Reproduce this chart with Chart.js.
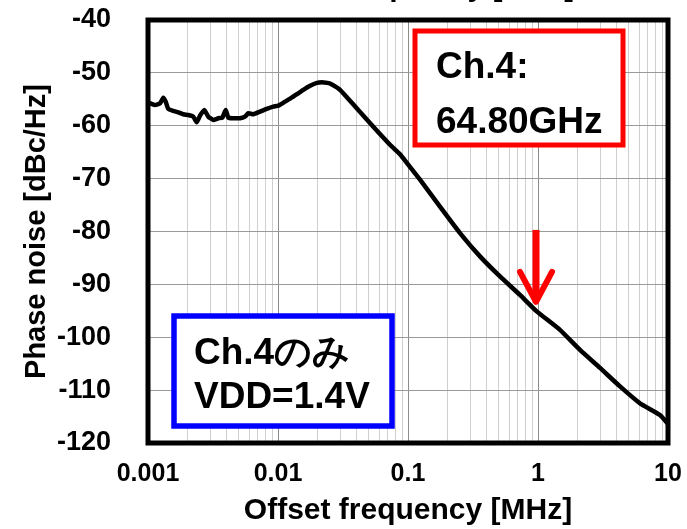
<!DOCTYPE html>
<html>
<head>
<meta charset="utf-8">
<script src="https://cdn.jsdelivr.net/npm/chart.js@4/dist/chart.umd.min.js"></script>
<style>
  html, body { margin: 0; padding: 0; background: #fff; }
  #wrap { width: 687px; height: 529px; position: relative; }
</style>
</head>
<body>
<div id="wrap"><canvas id="pnChart"></canvas></div>
<script>
// offset frequency [MHz] and phase noise [dBc/Hz]
const offsetFreq = [
  0.001, 0.001036, 0.001132, 0.001237, 0.001311, 0.001368, 0.001433, 0.001565,
  0.001711, 0.001868, 0.002042, 0.002231, 0.002369, 0.002512, 0.002711, 0.002909,
  0.003179, 0.003473, 0.003727, 0.003962, 0.00415, 0.004531, 0.005101, 0.005572,
  0.005909, 0.006457, 0.00727, 0.008185, 0.009204, 0.01005, 0.01132, 0.01275,
  0.01433, 0.01566, 0.0175, 0.0199, 0.0225, 0.0251, 0.03, 0.0403,
  0.0541, 0.0727, 0.0868, 0.1, 0.1237, 0.1762, 0.2512, 0.3579,
  0.5101, 0.727, 0.9772, 1.476, 2.104, 3.0, 4.273, 6.091, 8.675, 10
];
const phaseNoise = [
  -55.7, -55.75, -56.07, -55.75, -54.69, -55.44, -56.82, -57.2,
  -57.45, -57.83, -57.96, -58.28, -59.34, -58.09, -57.01, -58.28,
  -58.9, -58.58, -58.47, -57.01, -58.47, -58.58, -58.58, -58.28,
  -57.64, -57.83, -57.33, -56.82, -56.39, -56.2, -55.44, -54.69,
  -53.86, -53.23, -52.5, -51.9, -51.8, -52.0, -53.2, -56.7,
  -60.2, -63.6, -65.4, -67.3, -70.2, -75.3, -80.3, -84.7,
  -88.5, -92.0, -95.1, -98.6, -102.4, -105.8, -109.3, -112.5, -114.7, -116.4
];

const decadeTicks = [0.001, 0.01, 0.1, 1, 10];
const decadeLabels = ["0.001", "0.01", "0.1", "1", "10"];
const minorSteps = [1, 2, 3, 4, 5, 6, 7, 8, 9];

const redNote = ["Ch.4:", "64.80GHz"];
const blueNote = ["Ch.4のみ", "VDD=1.4V"];
const arrowAt = { x: 1, yTop: -79.7, yTip: -93.3 };

const xTitle = "Offset frequency [MHz]";
const yTitle = "Phase noise [dBc/Hz]";
const font = "'Liberation Sans', Arial, sans-serif";

function isDecade(v) {
  return decadeTicks.some(d => Math.abs(v - d) / d < 1e-6);
}

const extras = {
  id: "extras",
  afterDraw(chart) {
    const ctx = chart.ctx;
    const a = chart.chartArea;
    const xs = chart.scales.x, ys = chart.scales.y;
    ctx.save();

    // plot frame
    ctx.strokeStyle = "#000";
    ctx.lineWidth = 5;
    ctx.strokeRect(a.left, a.top, a.right - a.left, a.bottom - a.top);

    // red note box
    ctx.fillStyle = "#fff";
    ctx.fillRect(a.left + 267, a.top + 11, 208, 114);
    ctx.strokeStyle = "#ff0000";
    ctx.lineWidth = 5;
    ctx.strokeRect(a.left + 267, a.top + 11, 208, 114);
    ctx.fillStyle = "#000";
    ctx.font = "bold 37px " + font;
    ctx.textAlign = "left";
    ctx.textBaseline = "alphabetic";
    ctx.fillText(redNote[0], a.left + 288, a.top + 58);
    ctx.fillText(redNote[1], a.left + 288, a.top + 113);

    // blue note box
    ctx.fillStyle = "#fff";
    ctx.fillRect(a.left + 26, a.top + 296, 218, 110);
    ctx.strokeStyle = "#0000ff";
    ctx.lineWidth = 5.5;
    ctx.strokeRect(a.left + 26, a.top + 296, 218, 110);
    ctx.fillStyle = "#000";
    ctx.font = "bold 37px " + font;
    ctx.fillText(blueNote[0], a.left + 46, a.top + 344);
    ctx.fillText(blueNote[1], a.left + 46, a.top + 388);

    // red arrow at 1 MHz
    const ax = xs.getPixelForValue(arrowAt.x) - 2;
    const y0 = ys.getPixelForValue(arrowAt.yTop);
    const y1 = ys.getPixelForValue(arrowAt.yTip);
    ctx.strokeStyle = "#ff0000";
    ctx.lineWidth = 7;
    ctx.lineCap = "butt";
    ctx.beginPath();
    ctx.moveTo(ax, y0);
    ctx.lineTo(ax, y1 - 4);
    ctx.stroke();
    ctx.lineWidth = 6;
    ctx.lineCap = "round";
    ctx.lineJoin = "round";
    ctx.beginPath();
    ctx.moveTo(ax - 16, y1 - 30);
    ctx.lineTo(ax, y1);
    ctx.lineTo(ax + 16, y1 - 30);
    ctx.stroke();

    // clipped copy of the axis title at the very top
    ctx.fillStyle = "#000";
    ctx.font = "bold 30px " + font;
    ctx.textAlign = "center";
    ctx.fillText(xTitle, (a.left + a.right) / 2 + 2, -4);
    ctx.restore();
  }
};

new Chart(document.getElementById("pnChart"), {
  type: "line",
  data: {
    datasets: [{
      data: offsetFreq.map((f, i) => ({ x: f, y: phaseNoise[i] })),
      borderColor: "#000",
      borderWidth: 4.5,
      pointRadius: 0,
      tension: 0.15,
      fill: false
    }]
  },
  options: {
    responsive: true,
    maintainAspectRatio: false,
    animation: false,
    layout: { padding: { top: 20, right: 19, left: 0, bottom: 0 } },
    plugins: { legend: { display: false }, tooltip: { enabled: false } },
    scales: {
      x: {
        type: "logarithmic",
        min: 0.001,
        max: 10,
        afterBuildTicks(scale) {
          const t = [];
          decadeTicks.slice(0, -1).forEach(d => minorSteps.forEach(m => t.push({ value: +(d * m).toPrecision(6) })));
          t.push({ value: 10 });
          scale.ticks = t;
        },
        afterFit(scale) {
          scale.height = 86;
          scale.paddingLeft = 0;
          scale.paddingRight = 0;
          scale.paddingTop = 0;
          scale.paddingBottom = 0;
        },
        grid: {
          color: ctx => (ctx.tick && isDecade(ctx.tick.value)) ? "#8c8c8c" : "#cfcfcf",
          lineWidth: 1,
          drawTicks: false
        },
        border: { display: false },
        ticks: {
          autoSkip: false,
          maxRotation: 0,
          padding: 16,
          color: "#000",
          font: { family: font, size: 25, weight: "bold" },
          callback: v => {
            const i = decadeTicks.findIndex(d => Math.abs(v - d) / d < 1e-6);
            return i >= 0 ? decadeLabels[i] : "";
          }
        },
        title: {
          display: true,
          text: xTitle,
          color: "#000",
          font: { family: font, size: 30, weight: "bold" },
          padding: { top: 2, bottom: 0 }
        }
      },
      y: {
        min: -120,
        max: -40,
        afterFit(scale) {
          scale.width = 148;
          scale.paddingLeft = 0;
          scale.paddingRight = 0;
          scale.paddingTop = 0;
          scale.paddingBottom = 0;
        },
        grid: { color: "#9a9a9a", lineWidth: 1, drawTicks: false },
        border: { display: false },
        ticks: {
          stepSize: 10,
          padding: 37,
          color: "#000",
          font: { family: font, size: 27, weight: "bold" }
        },
        title: {
          display: true,
          text: yTitle,
          color: "#000",
          font: { family: font, size: 29, weight: "bold" },
          padding: { top: 20, bottom: 0 }
        }
      }
    }
  },
  plugins: [extras]
});
</script>
</body>
</html>
